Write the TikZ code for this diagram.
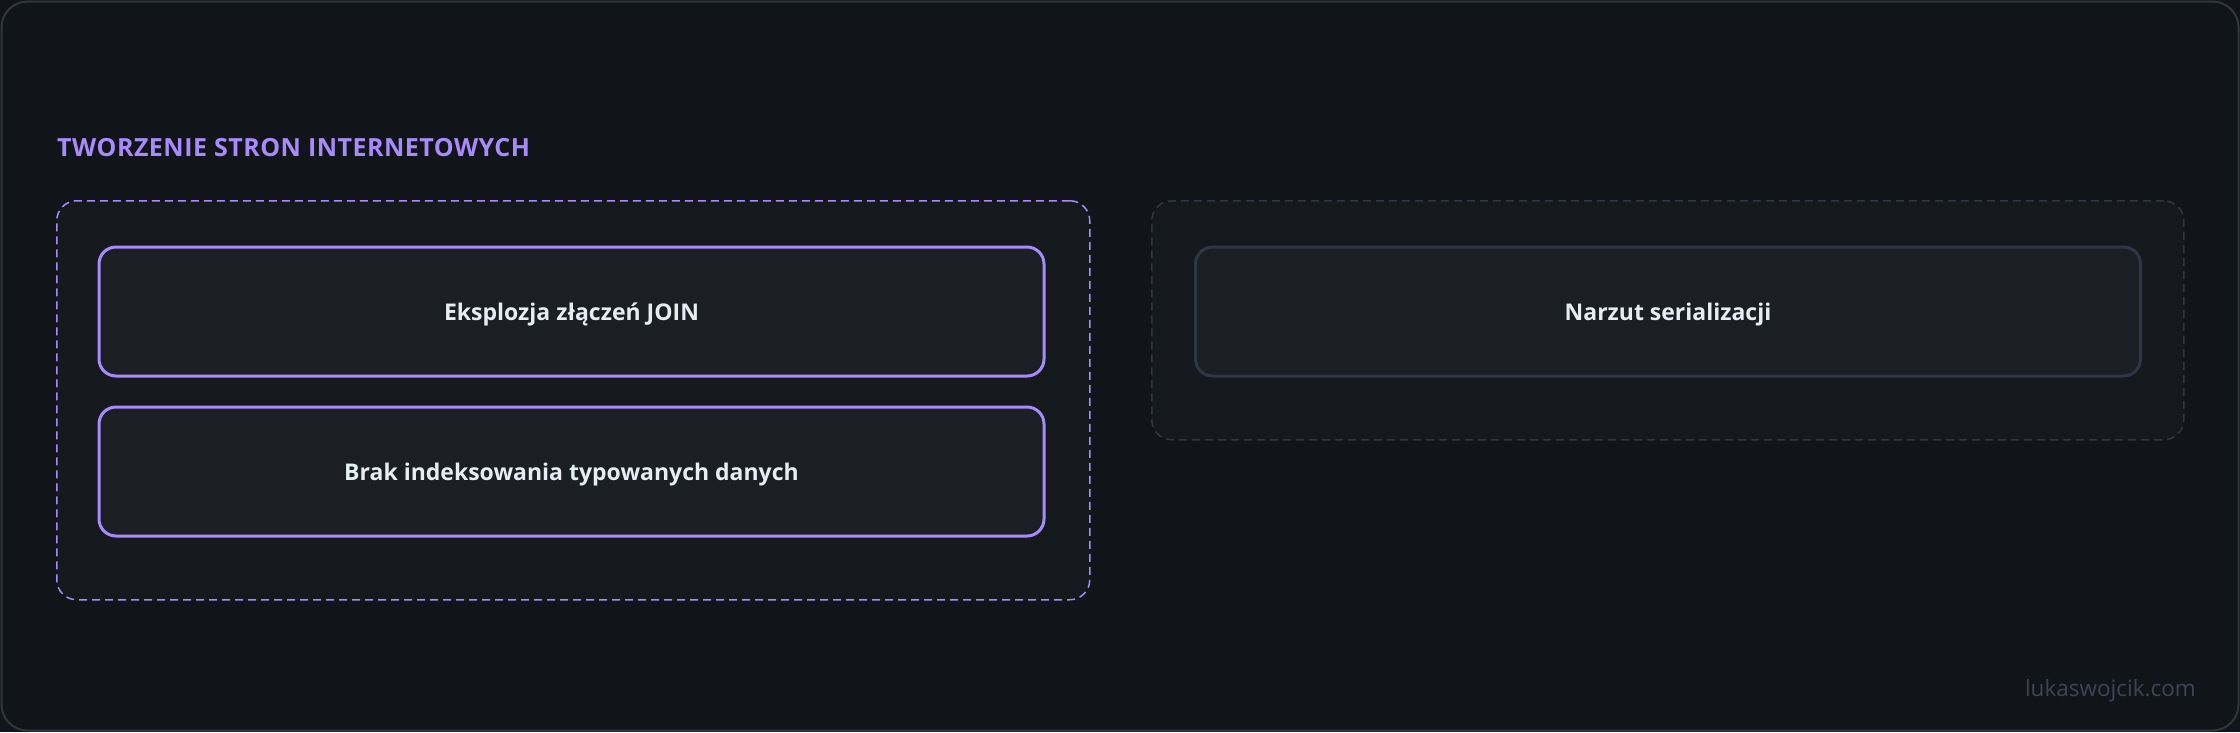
\documentclass[tikz,border=0pt]{standalone}
\usepackage{fontspec}
\setmainfont{Open Sans}
\newfontfamily\titlefont{Open Sans}[LetterSpace=2]
\definecolor{bgc}{HTML}{111418}
\definecolor{framec}{HTML}{30363D}
\definecolor{groupfill}{HTML}{15191D}
\definecolor{boxfill}{HTML}{1B1F23}
\definecolor{purp}{HTML}{A78BFA}
\definecolor{grayline}{HTML}{2F3545}
\definecolor{txt}{HTML}{E6EDF3}
\definecolor{wm}{HTML}{3D4455}
\tikzset{
  grp/.style={draw, dash pattern=on 8pt off 5pt, line width=1.5pt, fill=groupfill, rounded corners=20pt, rectangle, inner sep=0pt},
  itembox/.style={draw, line width=3pt, fill=boxfill, rounded corners=17pt, rectangle, inner sep=0pt, text depth=0pt,
     minimum width=945pt, minimum height=129pt, text=txt, font=\bfseries\fontsize{23}{27}\selectfont},
}
\begin{document}
\begin{tikzpicture}[x=1pt,y=-1pt]
\useasboundingbox (0,0) rectangle (2240,732);
\fill[bgc] (0,0) rectangle (2240,732);
\draw[framec, line width=2pt, rounded corners=26pt] (1.5,1.5) rectangle (2238.5,730.5);
\node[anchor=west, text=purp, font=\titlefont\bfseries\fontsize{25}{29}\selectfont, inner sep=0pt] (title) at (57,148) {TWORZENIE STRON INTERNETOWYCH};
\node[grp, draw=purp, minimum width=1033pt, minimum height=399pt, anchor=north west] (gleft) at (56,200) {};
\node[grp, draw=grayline, minimum width=1032pt, minimum height=239pt, anchor=north west] (gright) at (1151,200) {};
\node[itembox, draw=purp] (b1) at (571.5,311.5) {Eksplozja złączeń JOIN};
\node[itembox, draw=purp] (b2) at (571.5,471.5) {Brak indeksowania typowanych danych};
\node[itembox, draw=grayline] (b3) at (1668,311.5) {Narzut serializacji};
\node[anchor=east, text=wm, font=\fontsize{22.5}{26}\selectfont, inner sep=0pt] (wmark) at (2196,691) {lukaswojcik.com};
\end{tikzpicture}
\end{document}
